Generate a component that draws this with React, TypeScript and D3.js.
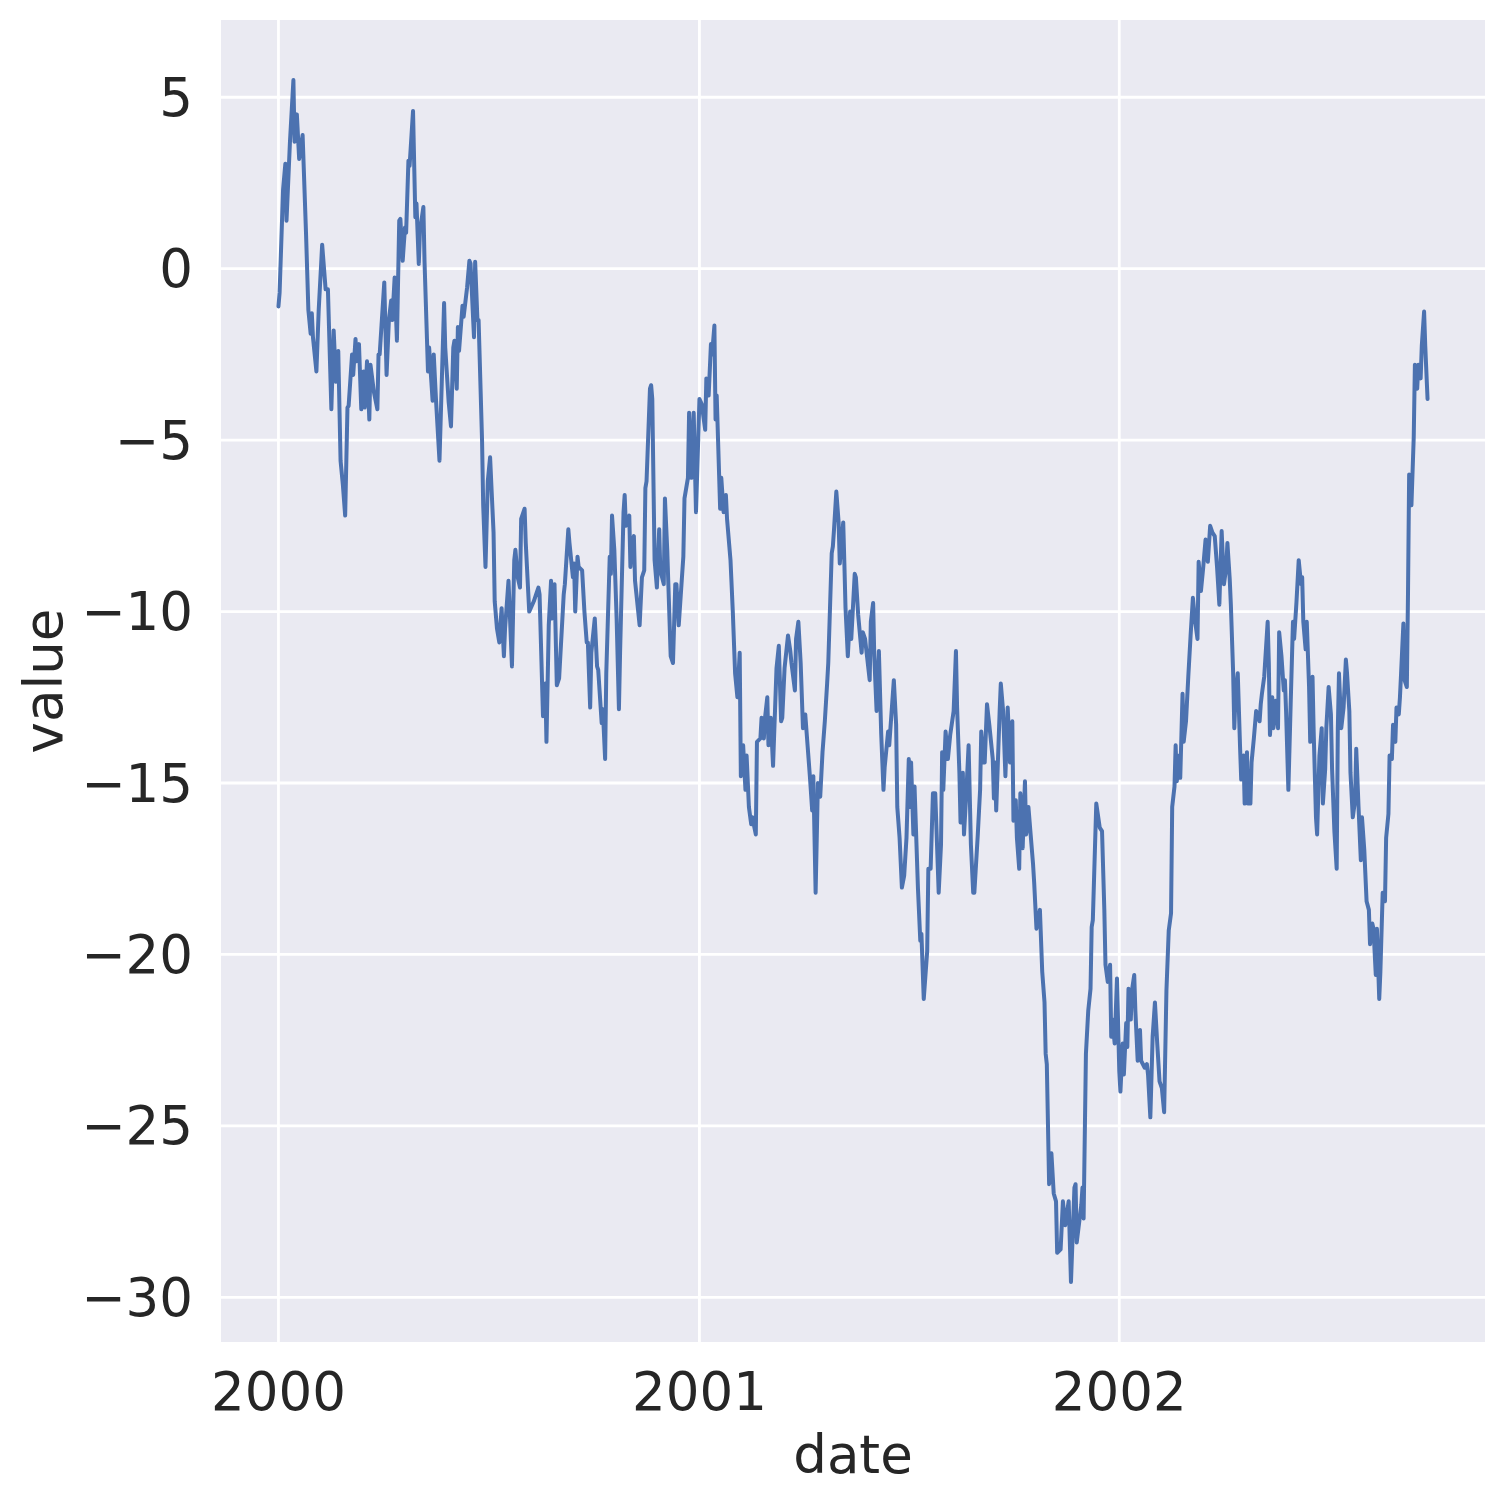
import React from 'react';
import * as d3 from 'd3';

// days since 2000-01-01
const sampleDays = [
  0, 1, 4, 6, 7, 10, 13, 14, 16, 18, 21, 24, 26, 28, 29, 30, 33, 35, 38, 41, 43, 46, 48, 50, 52, 54, 56, 58, 60, 61,
  64, 65, 67, 68, 70, 72, 74, 75, 77, 79, 80, 83, 86, 87, 88, 92, 94, 96, 98, 99, 101, 103, 105, 106, 108, 110, 111,
  113, 114, 117, 119, 120, 122, 123, 126, 127, 130, 131, 134, 135, 137, 140, 142, 144, 145, 148, 150, 152, 153, 155,
  156, 157, 160, 161, 164, 166, 167, 170, 171, 173,
  174, 177, 178, 180, 182, 184, 187, 188, 190, 192, 194, 196, 197, 200, 203, 205, 206, 208, 210, 211, 214, 215, 218,
  222, 224, 226, 227, 230, 232, 233, 235, 237, 238, 240, 242, 244, 248, 249, 252, 253, 256, 257, 258, 260, 261, 264,
  266, 268, 269, 271, 272, 275, 277, 278, 281, 282, 284, 285, 288, 289, 290, 292, 294, 296, 297, 300, 301, 302, 305,
  306, 307, 309, 310, 314, 316, 318, 319, 320, 323, 324, 325, 327, 329, 331, 332, 335, 336, 338, 341, 343, 345, 346,
  348, 352, 353, 356,
  357, 359, 361, 363, 366, 368, 371, 372, 374, 376, 377, 379, 380, 381, 384, 385, 387, 389, 390, 393, 395, 397, 399,
  401, 402, 404, 406, 407, 409, 411, 412, 415, 416, 419, 420, 422, 423, 425, 426, 428, 430, 433, 435, 437, 438, 440,
  443, 445, 446, 449, 450, 452, 454, 456, 458, 460, 462, 464, 465, 467, 469, 471, 473, 475, 477, 478, 481, 482, 483,
  485, 487, 488, 491, 492, 493, 495, 497, 498, 501, 502, 504, 507, 508, 510, 514, 515, 517, 518, 520, 522, 524, 526,
  527, 530,
  531, 535, 537, 538, 540, 542, 544, 546, 548, 549, 550, 552, 553, 556, 558, 559, 561, 564, 565, 567, 569, 571, 574,
  576, 577, 578, 580, 582, 584, 587, 589, 590, 592, 593, 595, 596, 598, 600, 602, 604, 605, 608, 610, 611, 613, 614,
  616, 618, 621, 622, 623, 624, 627, 628, 630, 632, 634, 636, 638, 639, 641, 642, 644, 645, 647, 649, 650, 651, 652,
  656, 657, 659, 661, 662, 664, 666, 667, 668, 670, 672, 674, 676, 677, 680, 682, 684, 687, 689, 692, 693, 694, 698,
  699, 700, 702, 704, 706, 707, 708, 711,
  714, 716, 718, 719, 721, 723, 724, 725, 727, 729, 731, 732, 734, 735, 737, 738, 739, 741, 742, 744, 745, 747, 749,
  750, 753, 755, 756, 758, 760, 762, 764, 766, 768, 770, 772, 774, 776, 777, 779, 780, 781, 783, 784, 786, 787, 789,
  791, 793, 795, 797, 799, 800, 802, 804, 806, 808, 810, 812, 814, 816, 818, 820, 822, 824, 825, 827, 828, 830, 831,
  832, 834, 836, 837, 839, 840, 842, 843, 845, 846, 848, 850, 853, 854, 855, 857, 860, 861, 862, 864, 865, 867, 869,
  870, 872, 874, 875, 876,
  878, 880, 882, 883, 885, 887, 889, 890, 891, 893, 894, 896, 897, 899, 900, 902, 903, 905, 907, 908, 910, 911, 913,
  915, 916, 918, 920, 921, 922, 924, 926, 928, 929, 931, 932, 934, 936, 937, 939, 941, 942, 944, 946, 948, 949, 951,
  952, 954, 955, 957, 958, 960, 962, 963, 965, 966, 968, 969, 971, 972, 974, 975, 976, 978, 979, 981, 982, 983, 985,
  987, 988, 990, 991, 993, 994, 996, 997, 999,
];

const sampleValues = [
  -1.1, -0.7, 2.3, 3.06, 1.4, 3.7, 5.5, 3.7, 4.5, 3.2, 3.9, 1.0, -1.2, -1.9, -1.3, -2.0, -3.0, -1.2, 0.7, -0.6, -0.6,
  -4.1, -1.8, -3.3, -2.4, -5.6, -6.3, -7.2, -4.05, -4.0,
  -2.5, -3.1, -2.05, -2.7, -2.2, -4.1, -3.0, -4.05, -2.7, -4.4, -2.8, -3.6, -4.1, -2.5, -2.5, -0.4, -3.1, -1.5, -0.93,
  -1.5, -0.26, -2.1, 1.4, 1.45, 0.23, 1.2, 1.05,
  3.15, 3.0, 4.6, 1.5, 1.9, 0.14, 1.1, 1.8, 0.2, -3.0, -2.3, -3.85, -2.5, -3.85, -5.6, -3.3, -1.0, -2.3, -3.9, -4.6,
  -2.3, -2.1, -3.5,
  -1.7, -2.4, -1.08, -1.4, -0.55, 0.23, 0.15, -2.0, 0.2, -1.5,
  -1.5, -5.0, -6.9, -8.7, -6.2, -5.5, -7.7, -9.7, -10.5, -10.9, -9.9, -11.3, -10.5, -9.1, -11.6, -8.5, -8.2, -9.0,
  -9.3, -7.3, -7.0, -8.0, -10.0,
  -9.7, -9.5, -9.3, -9.5, -13.05, -12.1, -13.8, -10.4, -9.1, -10.2, -9.2, -12.15, -11.95, -9.5, -9.2, -7.6, -8.0,
  -9.0, -8.6, -10.0, -8.4, -8.7, -8.8,
  -10.0, -10.9, -10.9, -12.8, -11.2, -10.2, -11.6, -11.7, -13.25, -12.85, -14.3, -11.8, -8.4, -8.9, -7.2, -8.2,
  -10.2, -12.85, -11.2, -7.1, -6.6, -7.5, -7.2,
  -8.7, -8.0, -7.8, -9.1, -10.4, -9.0, -8.8, -6.4, -6.2, -3.5, -3.4, -3.8, -8.5, -9.3, -7.6, -8.8, -9.2, -6.7, -8.2,
  -11.3, -11.5, -9.2, -9.2,
  -10.4, -8.4, -6.7, -6.1,
  -4.2, -6.1, -4.2, -7.1, -3.8, -3.95, -4.7, -3.2, -3.7, -2.2, -2.5, -1.66, -4.4, -3.7, -7.0, -6.1, -7.1, -6.6, -7.3,
  -8.5, -10.0, -11.8, -12.5,
  -11.2, -14.8, -13.9, -15.2, -14.2, -15.7, -16.2, -16.0, -16.5, -13.8, -13.7, -13.1, -13.7, -13.1, -12.5, -13.9,
  -13.1, -14.5, -11.65, -11.0, -13.2, -13.1, -11.65,
  -10.7, -11.15, -11.5, -12.3, -10.8, -10.3, -11.5, -13.4, -13.0, -13.9, -14.8, -15.8, -14.8, -18.2, -15.0, -15.4,
  -14.1, -13.2, -12.1, -11.5, -8.3, -8.1, -7.6,
  -6.5, -7.4, -8.6, -7.4, -8.6, -9.9, -11.3, -10.0, -10.8, -8.9, -9.0, -10.1, -11.2, -10.6, -10.8, -12.0, -10.3,
  -9.75, -11.3, -12.9, -11.15, -13.55, -15.2,
  -14.55, -13.5,
  -13.9, -12.0, -13.3, -15.7, -16.6, -18.05, -17.7, -16.6, -14.3, -15.7, -14.4, -16.5, -15.1, -18.1, -19.6, -19.4,
  -21.3, -19.9, -17.5, -17.5, -15.3, -15.3, -18.2,
  -16.8, -14.1, -15.2, -13.5, -14.3, -13.6, -12.9, -11.15, -12.8, -14.7, -16.15, -14.7, -16.5, -15.3, -13.9, -16.8,
  -18.2, -18.2, -16.5, -15.2, -13.5, -14.4, -14.4,
  -12.7, -13.3, -14.3, -15.45, -14.4, -15.8, -12.9, -12.1, -12.9, -14.8, -12.8, -14.4, -13.2, -16.1, -15.5, -16.6,
  -17.5, -15.3, -16.9, -14.95, -16.5, -16.3, -15.7,
  -17.35, -17.9, -19.25, -18.9, -18.7, -20.5, -21.4, -22.9, -23.2, -26.7, -25.8, -26.97, -27.2, -28.7, -28.6, -27.2,
  -27.9, -27.2, -29.55, -26.8, -26.7, -28.4, -27.3,
  -26.8, -27.7, -22.9, -21.65, -21.0, -19.2, -19.0, -15.6,
  -16.3, -16.4, -18.7, -20.3, -20.8, -20.3, -22.4, -21.9, -22.6, -20.7, -23.4, -24.0, -22.6, -23.5, -22.0, -22.7,
  -21.0, -21.9, -21.05, -20.6, -21.65, -23.1, -22.2,
  -23.1, -23.3, -23.2, -23.5, -24.75, -22.4, -21.4, -22.6, -23.7, -23.9, -24.6, -21.05, -19.3, -18.8, -15.7, -15.1,
  -13.9, -14.95, -14.2, -14.85, -12.4, -13.8, -13.2,
  -11.9, -10.7, -9.6, -10.3, -10.8, -8.55, -9.4, -8.7, -7.9, -8.55, -7.5, -7.7, -7.8, -8.7, -9.8, -7.65, -9.2, -8.7,
  -8.0, -9.05, -9.8, -11.8, -13.4,
  -12.5, -11.8, -13.95, -14.9, -14.2, -15.6, -14.1, -15.6, -15.6, -14.4, -13.7, -12.9, -13.2, -12.7, -12.4, -11.9,
  -10.3, -11.5, -13.6, -12.5, -13.4, -12.6, -13.4,
  -10.6, -11.3, -12.3, -12.0, -12.9,
  -15.2, -12.7, -10.3, -10.8, -9.75, -8.5, -9.2, -9.0, -10.3, -11.1, -10.3, -12.2, -13.8, -11.9, -13.5, -16.0, -16.5,
  -14.2, -13.4, -15.6, -14.6, -13.4, -12.2,
  -13.0, -14.6, -16.4, -17.5, -13.4, -11.8, -13.4, -12.8, -11.4, -11.8, -12.9, -14.7, -16.0, -15.5, -14.0, -15.7,
  -17.25, -16.0, -16.95, -18.45, -18.7, -19.7, -19.1,
  -19.25, -20.6, -19.25, -21.3, -20.5, -18.2, -18.45, -16.6, -15.9, -14.2, -14.3, -13.3, -13.8, -12.8, -13.0, -12.5,
  -11.8, -10.35, -12.0, -12.2, -9.5, -6.0, -6.9,
  -4.9, -2.8, -3.5, -2.8, -3.2, -2.25, -1.25, -2.25, -3.8,
];

const yTickValues = [5, 0, -5, -10, -15, -20, -25, -30];
const xLabel = 'date';
const yLabel = 'value';

const startDate = new Date(Date.UTC(2000, 0, 1));

interface Point {
  date: Date;
  value: number;
}

const data: Point[] = sampleDays.map((d, i) => ({
  date: d3.utcDay.offset(startDate, d),
  value: sampleValues[i],
}));

const width = 1505;
const height = 1505;
const margin = { top: 20, right: 20, bottom: 163, left: 221 };
const fontFamily = '"DejaVu Sans", sans-serif';
const textColor = '#262626';
const fontSize = 53;

const App: React.FC = () => {
  const innerW = width - margin.left - margin.right;
  const innerH = height - margin.top - margin.bottom;

  // matplotlib style 5% margins on both axes
  const [t0, t1] = d3.extent(data, (d) => d.date.getTime()) as [number, number];
  const tPad = (t1 - t0) * 0.05;
  const x = d3
    .scaleUtc()
    .domain([new Date(t0 - tPad), new Date(t1 + tPad)])
    .range([0, innerW]);

  const [v0, v1] = d3.extent(data, (d) => d.value) as [number, number];
  const vPad = (v1 - v0) * 0.05;
  const y = d3
    .scaleLinear()
    .domain([v0 - vPad, v1 + vPad])
    .range([innerH, 0]);

  const line = d3
    .line<Point>()
    .x((d) => x(d.date))
    .y((d) => y(d.value));

  const xTicks = x.ticks(d3.utcYear.every(1)!);
  const fmtYear = d3.utcFormat('%Y');
  const fmtNum = (v: number) => String(v).replace('-', '\u2212');

  return (
    <svg
      width={width}
      height={height}
      style={{ position: 'absolute', left: 0, top: 0, background: '#fff' }}
      fontFamily={fontFamily}
    >
      <g transform={`translate(${margin.left},${margin.top})`}>
        <rect width={innerW} height={innerH} fill="#EAEAF2" />
        {yTickValues.map((v) => (
          <line key={`gy${v}`} x1={0} x2={innerW} y1={y(v)} y2={y(v)} stroke="#fff" strokeWidth={2.8} />
        ))}
        {xTicks.map((t) => (
          <line key={`gx${t.getTime()}`} x1={x(t)} x2={x(t)} y1={0} y2={innerH} stroke="#fff" strokeWidth={2.8} />
        ))}
        <path
          d={line(data) ?? ''}
          fill="none"
          stroke="#4C72B0"
          strokeWidth={4}
          strokeLinejoin="round"
          strokeLinecap="round"
        />
        {yTickValues.map((v) => (
          <text
            key={`ty${v}`}
            x={-28}
            y={y(v)}
            dy="0.35em"
            textAnchor="end"
            fontSize={fontSize}
            fill={textColor}
          >
            {fmtNum(v)}
          </text>
        ))}
        {xTicks.map((t) => (
          <text
            key={`tx${t.getTime()}`}
            x={x(t)}
            y={innerH + 68}
            textAnchor="middle"
            fontSize={fontSize}
            fill={textColor}
          >
            {fmtYear(t)}
          </text>
        ))}
        <text x={innerW / 2} y={innerH + 131} textAnchor="middle" fontSize={fontSize} fill={textColor}>
          {xLabel}
        </text>
        <text
          transform={`translate(${62 - margin.left},${innerH / 2}) rotate(-90)`}
          textAnchor="middle"
          fontSize={fontSize}
          fill={textColor}
        >
          {yLabel}
        </text>
      </g>
    </svg>
  );
};

export default App;
